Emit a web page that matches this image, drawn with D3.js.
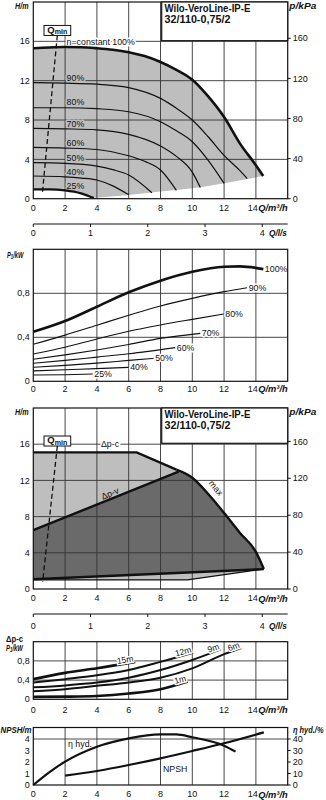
<!DOCTYPE html>
<html><head><meta charset="utf-8">
<script src="https://cdn.jsdelivr.net/npm/d3@7"></script>
<style>
body{margin:0;background:#fff;}
svg{display:block;}
</style></head><body>
<svg id="c" width="326" height="800"></svg>
<script>
// ---------------- DATA ----------------
const qTicks=[0,2,4,6,8,10,12,14];
const lsTicks=[0,1,2,3,4];
const hTicks=[0,4,8,12,16];
const kpaTicks=[0,40,80,120,160];
const pTicks=[0,0.4,0.8];
const npshTicks=[0,1,2,3,4];
const etaTicks=[0,10,20,30,40];
const titleLines=["Wilo-VeroLine-IP-E","32/110-0,75/2"];

// Chart 1: H(Q) at speeds
const speedLabels=["n=constant 100%","90%","80%","70%","60%","50%","40%","25%"];
const h100=[[0,15.3],[1,15.38],[2,15.42],[3,15.4],[4,15.3],[5,15.15],[6,14.9],[7,14.5],[8,13.9],[9,13.1],[10,12.1],[11,10.4],[12,8.3],[13,5.6],[14,3.4],[14.46,2.3]];
const h90=[[0,11.8],[2,11.75],[4,11.65],[6,11.3],[8,10.2],[9,9.2],[10,8.0],[11,6.3],[12,4.4],[13,2.85],[13.45,2.05]];
const h80=[[0,9.25],[2,9.25],[4,9.15],[6,8.84],[8,7.83],[9,6.9],[10,5.79],[11,3.9],[12,1.56]];
const h70=[[0,7.15],[2,7.1],[4,7.0],[6,6.54],[8,5.36],[9,4.3],[10,2.7],[10.5,1.15]];
const h60=[[0,5.22],[2,5.15],[4,5.0],[6,4.37],[7,3.8],[8,2.92],[9,0.85]];
const h50=[[0,3.66],[2,3.6],[4,3.32],[5,2.95],[6,2.41],[7.46,0.6]];
const h40=[[0,2.31],[2,2.22],[3,2.1],[4,1.9],[5,1.3],[6,0.4]];
const h25=[[0,0.95],[1,0.95],[2,0.85],[3,0.55],[3.8,0.07]];
const hLimit=[[3.8,0.07],[6,0.38],[8,0.72],[10,1.06],[12,1.56],[13.45,2.0],[14.46,2.3]];
const qminTop=[1.51,16.6], qminBottom=[0.57,0.55];

// Chart 2: P1(Q) at speeds
const powerLabels=["100%","90%","80%","70%","60%","50%","40%","25%"];
const p100=[[0,0.45],[2,0.548],[4,0.678],[6,0.809],[8,0.915],[10,0.996],[12,1.042],[13,1.045],[14.47,1.02]];
const p90=[[0,0.336],[2,0.42],[4,0.51],[6,0.60],[8,0.685],[10,0.754],[12,0.815],[13.45,0.851]];
const p80=[[0,0.248],[2,0.31],[4,0.385],[6,0.455],[8,0.512],[10,0.563],[11.98,0.612]];
const p70=[[0,0.2],[2,0.24],[4,0.285],[6,0.335],[8,0.39],[10.5,0.436]];
const p60=[[0,0.164],[2,0.19],[4,0.22],[6,0.25],[8.93,0.306]];
const p50=[[0,0.127],[2,0.145],[4,0.165],[6,0.19],[7.57,0.209]];
const p40=[[0,0.094],[2,0.105],[4,0.115],[6,0.127]];
const p25=[[0,0.057],[2,0.06],[3.74,0.066]];

// Chart 3: control modes
const dpcLine=[[0,15.1],[6.5,15.1],[9.0,13.2]];
const dpvLine=[[0,6.5],[9.14,12.96]];
const maxCurve=[[9.0,13.2],[10,12.3],[11,10.5],[12,8.4],[13,6.2],[14,4.1],[14.5,2.2]];
const minCurve=[[0,1.0],[9.7,1.0],[14.5,2.2]];
const minStraight=[[0,1.07],[14.5,2.2]];
const qminTop3=[1.51,15.8], qminBottom3=[0.59,0.8];

// Chart 4: P1 at dp-c setpoints
const dpcLabels=["15m","12m","9m","6m","1m"];
const c15=[[0,0.42],[2,0.55],[4,0.645],[6.41,0.78]];
const c12=[[0,0.35],[2,0.42],[4,0.5],[6,0.61],[8,0.78],[10.05,0.97]];
const c9=[[0,0.25],[2,0.29],[4,0.35],[6,0.45],[8,0.61],[10,0.82],[11.8,1.04]];
const c6=[[0,0.17],[2,0.21],[4,0.28],[6,0.35],[8,0.45],[10,0.645],[12,0.94],[13.07,1.07]];
const c1=[[0,0.05],[2,0.055],[4,0.07],[6,0.12],[8,0.21],[9.71,0.37]];

// Chart 5: NPSH and efficiency
const etaCurve=[[0,0],[1,11],[2,20.3],[4,33.3],[6,40.6],[8,44.1],[9,44.0],[10,41.5],[12,34.2],[12.72,29]];
const npshCurve=[[2,0.81],[4,1.22],[6,1.74],[8,2.32],[10,2.96],[12,3.63],[14.5,4.58]];

// ---------------- DRAW ----------------
const svg=d3.select("#c");
const F="'Liberation Sans',Arial,sans-serif";
const X0=33.3,X1=287.7;
const x=d3.scaleLinear().domain([0,16]).range([X0,X1]);
const ls=d3.scaleLinear().domain([0,16/3.6]).range([X0,X1]);
const loc=d3.formatLocale({decimal:",",thousands:".",grouping:[3],currency:["",""]});
const fmt=loc.format("~g");
const LIGHT="#bebebe", DARK="#6a6a6a";

function T(g,px,py,s,o={}){
  const t=g.append("text").attr("x",px).attr("y",py).attr("dy","0.35em")
   .attr("font-family",F).attr("font-size",o.fs||9).attr("fill","#111")
   .attr("text-anchor",o.a||"start").text(s);
  if(o.b)t.attr("font-weight","bold");
  if(o.i)t.attr("font-style","italic");
  if(o.halo)t.attr("stroke",o.halo).attr("stroke-width",3).attr("paint-order","stroke").attr("stroke-linejoin","round");
  return t;
}
// condensed text: horizontally scaled to a target width, left edge at px, baseline py
function fitText(g,px,py,w,fs,opts,build){
  const t=g.append("text").attr("x",0).attr("y",0).attr("font-family",F).attr("font-size",fs)
    .attr("fill","#111");
  if(opts.b)t.attr("font-weight","bold");
  if(opts.i)t.attr("font-style","italic");
  build(t);
  const n=t.node().getComputedTextLength()||w;
  t.attr("transform",`translate(${px},${py}) scale(${(w/n).toFixed(3)},1)`);
  return t;
}
function plain(s){return t=>t.text(s);}
function withSub(main,sub,rest,fs){return t=>{
  t.append("tspan").text(main);
  t.append("tspan").attr("font-size",fs*0.75).attr("dy",1.6).text(sub);
  if(rest) t.append("tspan").attr("dy",-1.6).text(rest);
};}
function line(y,c){return d3.line().x(d=>x(d[0])).y(d=>y(d[1])).curve(c||d3.curveMonotoneX);}
function cont(p){return p.replace(/^M/,"L");}
function grid(g,y,top,bottom,hl){
  g.selectAll(null).data(qTicks.filter(d=>d>0)).join("line")
   .attr("x1",d=>x(d)).attr("x2",d=>x(d)).attr("y1",top).attr("y2",bottom)
   .attr("stroke","#333").attr("stroke-width",0.9);
  g.selectAll(null).data(hl).join("line")
   .attr("x1",X0).attr("x2",X1).attr("y1",d=>y(d)).attr("y2",d=>y(d))
   .attr("stroke","#333").attr("stroke-width",0.9);
}
function frame(g,top,bottom){
  g.append("rect").attr("x",X0).attr("y",top).attr("width",X1-X0).attr("height",bottom-top)
   .attr("fill","none").attr("stroke","#111").attr("stroke-width",1.2);
}
function xLabels(g,yy){
  qTicks.forEach(q=>{
    if(q===14) T(g,x(q)+1.8,yy,"14",{a:"end"});
    else T(g,x(q),yy,String(q),{a:"middle"});
  });
  fitText(g,x(14)+2.3,yy+3.2,29.5,9,{b:true,i:true},plain("Q/m³/h"));
}
function leftLabels(g,y,ticks){ticks.forEach(v=>T(g,X0-3.5,y(v),fmt(v),{a:"end"}));}
function rightLabels(g,y,ticks){
  ticks.forEach(v=>{
    g.append("line").attr("x1",X1).attr("x2",X1+3).attr("y1",y(v)).attr("y2",y(v)).attr("stroke","#111");
    T(g,X1+5,y(v),fmt(v));
  });
}
function titleBox(g,top,bottom){
  g.append("rect").attr("x",161.7).attr("y",top).attr("width",X1-161.7).attr("height",bottom-top)
   .attr("fill","#fff").attr("stroke","#111").attr("stroke-width",1.2);
  titleLines.forEach((s,i)=>fitText(g,164.5,top+9.5+i*11.4,i===0?86:66,10,{b:true},plain(s)));
}
function qminBox(g,y,top,bot){
  const cx=x(top[0]), by=y(top[1]);
  g.append("line").attr("x1",cx).attr("y1",by).attr("x2",x(bot[0])).attr("y2",y(bot[1]))
   .attr("stroke","#111").attr("stroke-width",1.3).attr("stroke-dasharray","5,3");
  g.append("rect").attr("x",cx-13.3).attr("y",by-10).attr("width",26.7).attr("height",10)
   .attr("fill","#fff").attr("stroke","#111").attr("stroke-width",1);
  fitText(g,cx-10,by-2.8,20,8.5,{b:true},withSub("Q","min","",8.5));
}
function lerp(c,q){for(let i=1;i<c.length;i++){if(q<=c[i][0]){const a=c[i-1],b=c[i];return a[1]+(b[1]-a[1])*(q-a[0])/(b[0]-a[0]);}}return c[c.length-1][1];}
function lsAxis(g,ya,lab){
  g.append("line").attr("x1",X0).attr("x2",X1).attr("y1",ya).attr("y2",ya).attr("stroke","#111").attr("stroke-width",1.2);
  lsTicks.forEach(v=>{
    g.append("line").attr("x1",ls(v)).attr("x2",ls(v)).attr("y1",ya).attr("y2",ya+3).attr("stroke","#111");
    T(g,ls(v),ya+lab,String(v),{a:"middle"});
  });
  fitText(g,269,ya+lab+3.2,18,9,{b:true,i:true},plain("Q/l/s"));
}

// ===== Chart 1 =====
{
  const top=2,bottom=198.7;
  const y=d3.scaleLinear().domain([0,20]).range([bottom,top]);
  const kp=d3.scaleLinear().domain([0,20*9.81]).range([bottom,top]);
  const g=svg.append("g");
  const L=line(y);
  const area=L(h100)+cont(L(hLimit.slice().reverse()))+cont(L(h25.slice().reverse()))+"Z";
  g.append("path").attr("d",area).attr("fill",LIGHT);
  grid(g,y,top,bottom,[4,8,12,16]);
  const curves=[h100,h90,h80,h70,h60,h50,h40,h25];
  const widths=[2.6,1.2,1.2,1.2,1.2,1.2,1.2,2.4];
  curves.forEach((c,i)=>{
    T(g,x(2)+1.5,y(lerp(c,2.4))-5.6,speedLabels[i],{fs:8.8,halo:i===0?"#fff":LIGHT});
  });
  curves.forEach((c,i)=>g.append("path").attr("d",L(c)).attr("fill","none").attr("stroke","#111").attr("stroke-width",widths[i]));
  frame(g,top,bottom);
  titleBox(g,top,40.7);
  qminBox(g,y,qminTop,qminBottom);
  leftLabels(g,y,hTicks);
  rightLabels(g,kp,kpaTicks);
  xLabels(g,bottom+9);
  fitText(g,15,9.2,13.5,9,{b:true,i:true},plain("H/m"));
  fitText(g,289.3,9.2,27,9,{b:true,i:true},plain("p/kPa"));
  lsAxis(g,224,8.5);
}

// ===== Chart 2 =====
{
  const top=249.3,bottom=381.3;
  const y=d3.scaleLinear().domain([0,1.2]).range([bottom,top]);
  const g=svg.append("g");
  const L=line(y);
  grid(g,y,top,bottom,[0.4,0.8]);
  const curves=[p100,p90,p80,p70,p60,p50,p40,p25];
  curves.forEach((c,i)=>{
    g.append("path").attr("d",L(c)).attr("fill","none").attr("stroke","#111").attr("stroke-width",i===0?2.6:1.1);
    const e=c[c.length-1];
    T(g,x(e[0])+1.5,y(e[1]),powerLabels[i],{fs:8.8,halo:"#fff"});
  });
  frame(g,top,bottom);
  leftLabels(g,y,pTicks);
  xLabels(g,bottom+7.6);
  fitText(g,7,257.5,16.5,9,{b:true,i:true},withSub("P","1","/kW",9));
}

// ===== Chart 3 =====
{
  const top=408,bottom=589;
  const y=d3.scaleLinear().domain([0,20]).range([bottom,top]);
  const kp=d3.scaleLinear().domain([0,20*9.81]).range([bottom,top]);
  const g=svg.append("g");
  const L=line(y,d3.curveLinear), M=line(y);
  const lightArea=L(dpcLine)+cont(M(maxCurve))+cont(L(minCurve.slice().reverse()))+"Z";
  g.append("path").attr("d",lightArea).attr("fill",LIGHT);
  const darkArea=L(dpvLine)+cont(M(maxCurve.filter(d=>d[0]>=10)))+cont(L(minStraight.slice().reverse()))+"Z";
  g.append("path").attr("d",darkArea).attr("fill",DARK);
  grid(g,y,top,bottom,[4,8,12,16]);
  g.append("path").attr("d",L(minCurve)).attr("fill","none").attr("stroke","#111").attr("stroke-width",1.2);
  [dpcLine,dpvLine,minStraight].forEach(c=>g.append("path").attr("d",L(c)).attr("fill","none").attr("stroke","#111").attr("stroke-width",2.4));
  g.append("path").attr("d",M(maxCurve)).attr("fill","none").attr("stroke","#111").attr("stroke-width",2.4);
  frame(g,top,bottom);
  titleBox(g,top,443.3);
  qminBox(g,y,qminTop3,qminBottom3);
  T(g,110,y(16),"Δp-c",{a:"middle",fs:8.8,halo:"#fff"});
  const a1=Math.atan2(y(dpvLine[1][1])-y(dpvLine[0][1]),x(dpvLine[1][0])-x(dpvLine[0][0]))*180/Math.PI;
  T(g,0,0,"Δp-v",{a:"middle",fs:8.8}).attr("transform",`translate(110,${y(lerp(dpvLine,4.8))-6}) rotate(${a1})`);
  T(g,0,0,"max",{a:"middle",fs:8.8}).attr("transform",`translate(216,488) rotate(50)`);
  leftLabels(g,y,hTicks);
  rightLabels(g,kp,kpaTicks);
  xLabels(g,bottom+9.3);
  fitText(g,15,414.9,13.5,9,{b:true,i:true},plain("H/m"));
  fitText(g,289.3,414.9,27,9,{b:true,i:true},plain("p/kPa"));
  lsAxis(g,614,11.5);
}

// ===== Chart 4 =====
{
  const top=641.7,bottom=699.3;
  const y=d3.scaleLinear().domain([0,1.2]).range([bottom,top]);
  const g=svg.append("g");
  const L=line(y);
  grid(g,y,top,bottom,[0.4,0.8]);
  const curves=[c15,c12,c9,c6,c1];
  const widths=[2.6,2,2,2,2.6];
  curves.forEach((c,i)=>{
    g.append("path").attr("d",L(c)).attr("fill","none").attr("stroke","#111").attr("stroke-width",widths[i]);
    const e=c[c.length-1], p=c[c.length-2];
    const ang=Math.atan2(y(e[1])-y(p[1]),x(e[0])-x(p[0]))*180/Math.PI;
    T(g,0,0,dpcLabels[i],{a:"end",fs:8.5,halo:"#fff"}).attr("transform",`translate(${x(e[0])-2},${y(e[1])-3.5}) rotate(${ang})`);
  });
  frame(g,top,bottom);
  leftLabels(g,y,pTicks);
  xLabels(g,bottom+10.5);
  fitText(g,6,641.5,17,8.5,{b:true},plain("Δp-c"));
  fitText(g,6,650.5,17,8.5,{b:true,i:true},withSub("P","1","/kW",8.5));
}

// ===== Chart 5 =====
{
  const top=727.5,bottom=785;
  const y=d3.scaleLinear().domain([0,5]).range([bottom,top]);
  const ye=d3.scaleLinear().domain([0,50]).range([bottom,top]);
  const g=svg.append("g");
  grid(g,y,top,bottom,[4]);
  g.append("path").attr("d",d3.line().x(d=>x(d[0])).y(d=>ye(d[1])).curve(d3.curveMonotoneX)(etaCurve))
   .attr("fill","none").attr("stroke","#111").attr("stroke-width",2.2);
  g.append("path").attr("d",line(y)(npshCurve)).attr("fill","none").attr("stroke","#111").attr("stroke-width",2.2);
  frame(g,top,bottom);
  leftLabels(g,y,npshTicks);
  rightLabels(g,ye,etaTicks);
  xLabels(g,bottom+9.3);
  T(g,68,744,"η hyd.",{fs:8.8});
  T(g,163,769,"NPSH",{fs:8.8});
  fitText(g,0.5,732.5,31,8.5,{b:true,i:true},plain("NPSH/m"));
  fitText(g,293,732.5,30.5,8.5,{b:true,i:true},plain("η hyd./%"));
}
</script></body></html>
